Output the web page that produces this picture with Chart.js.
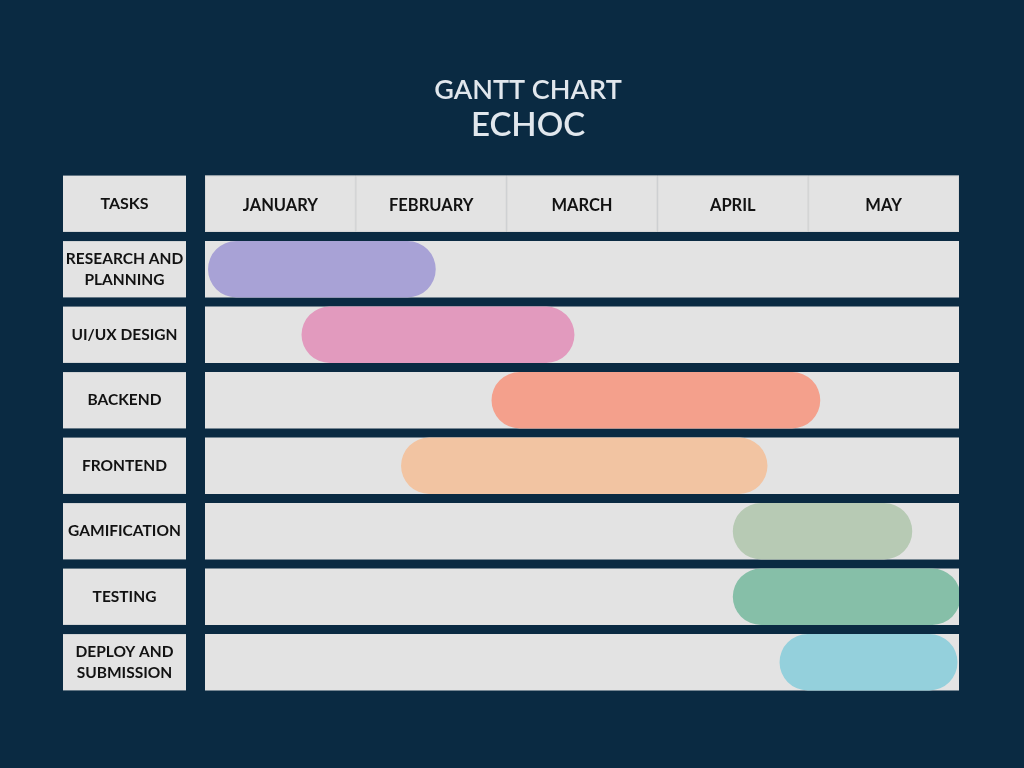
<!DOCTYPE html>
<html>
<head>
<meta charset="utf-8">
<script src="https://cdn.jsdelivr.net/npm/chart.js@4.4.1/dist/chart.umd.min.js"></script>
<style>
html,body{margin:0;padding:0;background:#0A2A42;}
#wrap{width:1024px;height:768px;}
</style>
</head>
<body>
<div id="wrap"><canvas id="c" width="1024" height="768"></canvas></div>
<script>
// ---- data ----
const months = ["JANUARY", "FEBRUARY", "MARCH", "APRIL", "MAY"];
const headerLabel = "TASKS";
const tasks = [
  ["RESEARCH AND", "PLANNING"],
  ["UI/UX DESIGN"],
  ["BACKEND"],
  ["FRONTEND"],
  ["GAMIFICATION"],
  ["TESTING"],
  ["DEPLOY AND", "SUBMISSION"]
];
const taskStart = [0.02, 0.64, 1.90, 1.30, 3.50, 3.50, 3.81];
const taskEnd   = [1.53, 2.45, 4.08, 3.73, 4.69, 5.01, 4.99];
const taskColors = ["#A8A2D6", "#E29ABE", "#F4A08C", "#F2C4A2", "#B7CAB4", "#86BFA8", "#94D0DC"];
const titleText = "GANTT CHART";
const subtitleText = "ECHOC";

// ---- build ----
const yLabels = [headerLabel].concat(tasks.map(t => t.join(" ")));
const barData = [null].concat(taskStart.map((s, i) => [s, taskEnd[i]]));
const rowData = [null].concat(tasks.map(() => [0, months.length]));

const CELL = "#E3E3E3";
const INK = "#121212";
const FONT = "Lato, 'Open Sans', sans-serif";
const BAR_PCT = 0.86;

const cellsPlugin = {
  id: "cells",
  beforeDatasetsDraw(chart) {
    const ctx = chart.ctx;
    const x = chart.scales.x, y = chart.scales.y;
    const band = (y.getPixelForValue(1) - y.getPixelForValue(0));
    const rowH = band * BAR_PCT;
    ctx.save();
    // header month cells
    const hy = y.getPixelForValue(0);
    const top = hy - rowH / 2;
    for (let i = 0; i < months.length; i++) {
      const x0 = x.getPixelForValue(i), x1 = x.getPixelForValue(i + 1);
      ctx.fillStyle = CELL;
      ctx.fillRect(x0, top, x1 - x0, rowH);
      ctx.strokeStyle = "#D8D8D8";
      ctx.lineWidth = 1;
      ctx.strokeRect(x0 + 0.5, top + 0.5, x1 - x0 - 1, rowH - 1);
      ctx.fillStyle = INK;
      ctx.font = "bold 16.5px " + FONT;
      ctx.textAlign = "center";
      ctx.textBaseline = "middle";
      ctx.fillText(months[i], (x0 + x1) / 2, hy + 2);
    }
    // task label boxes
    const bx0 = chart.chartArea.left - 142, bw = 123;
    for (let r = 0; r < yLabels.length; r++) {
      const cy = y.getPixelForValue(r);
      ctx.fillStyle = CELL;
      ctx.fillRect(bx0, cy - rowH / 2, bw, rowH);
      ctx.fillStyle = INK;
      ctx.textAlign = "center";
      ctx.textBaseline = "middle";
      const lines = r === 0 ? [headerLabel] : tasks[r - 1];
      ctx.font = (r === 0 ? "bold 16px " : "bold 15.5px ") + FONT;
      const lh = 21;
      lines.forEach((ln, k) => {
        ctx.fillText(ln, bx0 + bw / 2, cy + (k - (lines.length - 1) / 2) * lh);
      });
    }
    ctx.restore();
  }
};

new Chart(document.getElementById("c"), {
  type: "bar",
  data: {
    labels: yLabels,
    datasets: [
      {
        label: "Tasks",
        data: barData,
        backgroundColor: [null].concat(taskColors),
        borderRadius: 30,
        borderSkipped: false,
        grouped: false,
        order: 0,
        barPercentage: BAR_PCT,
        categoryPercentage: 1
      },
      {
        label: "Rows",
        data: rowData,
        backgroundColor: CELL,
        borderRadius: 0,
        borderSkipped: false,
        grouped: false,
        order: 1,
        barPercentage: BAR_PCT,
        categoryPercentage: 1
      }
    ]
  },
  options: {
    indexAxis: "y",
    responsive: false,
    animation: false,
    layout: { padding: { top: 60, left: 97, right: 65, bottom: 73 } },
    scales: {
      x: { type: "linear", min: 0, max: months.length, display: false },
      y: {
        type: "category", display: true, offset: true,
        ticks: { display: false },
        grid: { display: false },
        border: { display: false },
        afterFit(s) { s.width = 108; }
      }
    },
    plugins: {
      legend: { display: false },
      tooltip: { enabled: false },
      title: {
        display: true,
        text: titleText,
        color: "#E1E7ED",
        font: { family: FONT, size: 27, weight: "600", lineHeight: 1 },
        padding: { top: 17, bottom: 0 }
      },
      subtitle: {
        display: true,
        text: subtitleText,
        color: "#E1E7ED",
        font: { family: FONT, size: 33, weight: "600", lineHeight: 1 },
        padding: { top: 5, bottom: 29 }
      }
    }
  },
  plugins: [cellsPlugin]
});
</script>
</body>
</html>
